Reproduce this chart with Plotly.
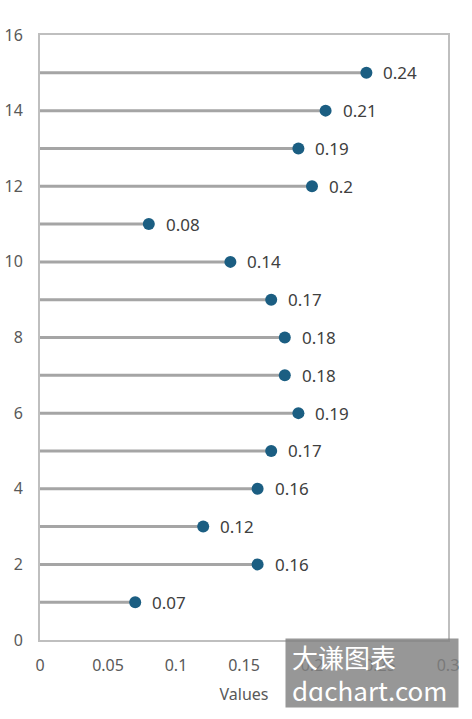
import plotly.graph_objects as go

positions = list(range(1, 16))
values = [0.07, 0.16, 0.12, 0.16, 0.17, 0.19, 0.18, 0.18, 0.17, 0.14, 0.08, 0.2, 0.19, 0.21, 0.24]
x_ticks = [0, 0.05, 0.1, 0.15, 0.2, 0.25, 0.3]
x_tick_labels = ["0", "0.05", "0.1", "0.15", "0.2", "0.25", "0.3"]
y_ticks = [0, 2, 4, 6, 8, 10, 12, 14, 16]

FONT = "Noto Sans"
stem_x, stem_y = [], []
for p, v in zip(positions, values):
    stem_x += [0, v, None]
    stem_y += [p, p, None]

fig = go.Figure()
fig.add_trace(go.Scatter(x=stem_x, y=stem_y, mode="lines",
                         line=dict(color="#a5a5a5", width=3),
                         hoverinfo="skip", showlegend=False))
fig.add_trace(go.Scatter(x=values, y=positions, mode="markers",
                         marker=dict(color="#1b5e82", size=12),
                         showlegend=False))
for p, v in zip(positions, values):
    fig.add_annotation(x=v, y=p, text=f"{v:g}", showarrow=False,
                       xanchor="left", yanchor="middle", xshift=15,
                       font=dict(family=FONT, size=17, color="#404040"))

fig.add_annotation(xref="paper", yref="paper", x=(285 - 40) / 408, y=(640 - 638) / 605,
                   xanchor="left", yanchor="top", showarrow=False,
                   text="大谦图表<br>dqchart.com", align="left",
                   width=160, height=56, borderpad=6,
                   bgcolor="rgba(128,128,128,0.82)",
                   font=dict(family="Noto Sans CJK SC", size=26, color="white"))

fig.update_layout(
    width=472, height=719,
    margin=dict(l=40, r=24, t=35, b=79, autoexpand=False),
    plot_bgcolor="white", paper_bgcolor="white",
    font=dict(family=FONT, size=16, color="#595959"),
    xaxis=dict(range=[0, 0.3], tickvals=x_ticks, ticktext=x_tick_labels,
               showgrid=False, zeroline=False, showline=True, mirror=True,
               linecolor="#bfbfbf", linewidth=2, ticks="", ticklabelstandoff=10,
               automargin=False,
               title=dict(text="Values", font=dict(family=FONT, size=16, color="#595959"),
                          standoff=14),
               tickfont=dict(family=FONT, size=16, color="#595959")),
    yaxis=dict(range=[0, 16], tickvals=y_ticks,
               showgrid=False, zeroline=False, showline=True, mirror=True,
               linecolor="#bfbfbf", linewidth=2, ticks="", ticklabelstandoff=12,
               automargin=False,
               tickfont=dict(family=FONT, size=16, color="#595959")),
)
fig.write_html("out.html")
